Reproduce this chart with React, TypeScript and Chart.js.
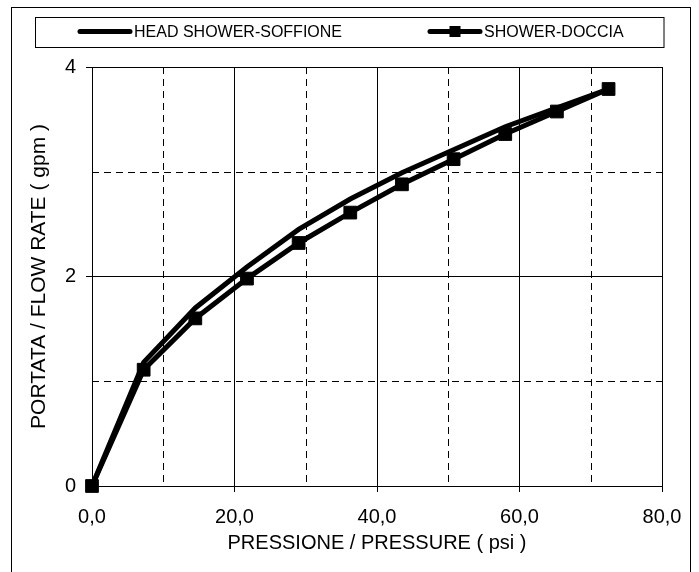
import React, { useEffect, useRef } from "react";
import { Chart, registerables } from "chart.js";

Chart.register(...registerables);

// ---- data ----
const pressurePsi = [0, 7.25, 14.5, 21.75, 29, 36.25, 43.5, 50.75, 58, 65.25, 72.5];
const headShowerGpm = [0, 1.18, 1.7, 2.09, 2.45, 2.74, 2.99, 3.21, 3.43, 3.61, 3.79];
const showerGpm = [0, 1.11, 1.6, 1.98, 2.32, 2.61, 2.88, 3.12, 3.36, 3.575, 3.79];
const seriesNames = ["HEAD SHOWER-SOFFIONE", "SHOWER-DOCCIA"];
const xMajorTicks = [0, 20, 40, 60, 80];
const xMinorTicks = [10, 30, 50, 70];
const yMajorTicks = [0, 2, 4];
const yMinorTicks = [1, 3];
const xTitle = "PRESSIONE / PRESSURE ( psi )";
const yTitle = "PORTATA / FLOW RATE ( gpm )";

const FONT = "'Liberation Sans', Arial, sans-serif";

const decorPlugin = {
  id: "decor",
  beforeDatasetsDraw(chart: any) {
    const { ctx, chartArea, scales } = chart;
    const { left, right, top, bottom } = chartArea;
    ctx.save();
    ctx.strokeStyle = "#000";
    ctx.lineWidth = 1;
    ctx.setLineDash([7, 5]);
    xMinorTicks.forEach((v) => {
      const px = Math.round(scales.x.getPixelForValue(v)) + 0.5;
      ctx.beginPath();
      ctx.moveTo(px, top);
      ctx.lineTo(px, bottom);
      ctx.stroke();
    });
    yMinorTicks.forEach((v) => {
      const py = Math.round(scales.y.getPixelForValue(v)) + 0.5;
      ctx.beginPath();
      ctx.moveTo(left, py);
      ctx.lineTo(right, py);
      ctx.stroke();
    });
    ctx.restore();
  },
  afterDraw(chart: any) {
    const { ctx } = chart;
    ctx.save();
    ctx.setLineDash([]);
    // outer frame
    ctx.strokeStyle = "#000";
    ctx.lineWidth = 1;
    ctx.strokeRect(11.5, 7.5, 679, 570);
    // legend box
    ctx.strokeRect(35.5, 17.5, 628.5, 30);
    const ly = 31.5;
    const starts = [78, 428];
    const lineLen = 54;
    ctx.font = `16px ${FONT}`;
    ctx.fillStyle = "#000";
    ctx.textBaseline = "middle";
    ctx.textAlign = "left";
    chart.data.datasets.forEach((ds: any, i: number) => {
      const x0 = starts[i];
      ctx.lineWidth = 5;
      ctx.lineCap = "round";
      ctx.strokeStyle = ds.borderColor;
      ctx.beginPath();
      ctx.moveTo(x0 + 2, ly);
      ctx.lineTo(x0 + lineLen - 2, ly);
      ctx.stroke();
      if (ds.pointRadius > 0) {
        const s = 11;
        ctx.fillStyle = ds.pointBackgroundColor;
        ctx.fillRect(x0 + lineLen / 2 - s / 2, ly - s / 2, s, s);
      }
      ctx.fillStyle = "#000";
      ctx.fillText(ds.label, x0 + lineLen + 2, ly + 1);
    });
    ctx.restore();
  },
};

export default function App() {
  const canvasRef = useRef<HTMLCanvasElement | null>(null);

  useEffect(() => {
    document.body.style.margin = "0";
    const canvas = canvasRef.current;
    if (!canvas) return;
    Chart.defaults.font.family = FONT;
    Chart.defaults.color = "#000";

    const chart = new Chart(canvas, {
      type: "line",
      data: {
        datasets: [
          {
            label: seriesNames[0],
            data: pressurePsi.map((x, i) => ({ x, y: headShowerGpm[i] })),
            borderColor: "#000",
            backgroundColor: "#000",
            borderWidth: 5,
            borderJoinStyle: "miter",
            pointRadius: 0,
            pointHoverRadius: 0,
            pointBackgroundColor: "#000",
            order: 1,
          },
          {
            label: seriesNames[1],
            data: pressurePsi.map((x, i) => ({ x, y: showerGpm[i] })),
            borderColor: "#000",
            backgroundColor: "#000",
            borderWidth: 5,
            borderJoinStyle: "miter",
            pointStyle: "rect",
            pointRadius: 9,
            pointBorderWidth: 1,
            pointBackgroundColor: "#000",
            pointBorderColor: "#000",
            order: 0,
          },
        ],
      },
      options: {
        responsive: false,
        animation: false,
        devicePixelRatio: 1,
        clip: false as any,
        layout: { padding: { left: 0, right: 37, top: 67, bottom: 0 } },
        plugins: {
          legend: { display: false },
          tooltip: { enabled: false },
        },
        scales: {
          x: {
            type: "linear",
            min: 0,
            max: 80,
            afterBuildTicks: (s: any) => {
              s.ticks = xMajorTicks.map((v) => ({ value: v }));
            },
            afterFit: (s: any) => {
              s.height = 86;
            },
            ticks: {
              autoSkip: false,
              maxRotation: 0,
              padding: 13,
              font: { size: 20, family: FONT },
              color: "#000",
              callback: (v: any) => Number(v).toFixed(1).replace(".", ","),
            },
            grid: { color: "#000", lineWidth: 1, tickLength: 6, drawTicks: true },
            border: { color: "#000", width: 1 },
            title: {
              display: true,
              text: xTitle,
              color: "#000",
              font: { size: 20, family: FONT },
              padding: { top: 0, bottom: 17 },
            },
          },
          y: {
            type: "linear",
            min: 0,
            max: 4,
            afterBuildTicks: (s: any) => {
              s.ticks = yMajorTicks.map((v) => ({ value: v }));
            },
            afterFit: (s: any) => {
              s.width = 92;
            },
            ticks: {
              autoSkip: false,
              padding: 10,
              font: { size: 20, family: FONT },
              color: "#000",
              callback: (v: any) => String(v),
            },
            grid: { color: "#000", lineWidth: 1, tickLength: 6, drawTicks: true },
            border: { color: "#000", width: 1 },
            title: {
              display: true,
              text: yTitle,
              color: "#000",
              font: { size: 21, family: FONT },
              padding: { top: 27, bottom: 0 },
            },
          },
        },
      },
      plugins: [decorPlugin],
    } as any);

    return () => chart.destroy();
  }, []);

  return <canvas ref={canvasRef} width={699} height={572} style={{ display: "block", width: 699, height: 572 }} />;
}
